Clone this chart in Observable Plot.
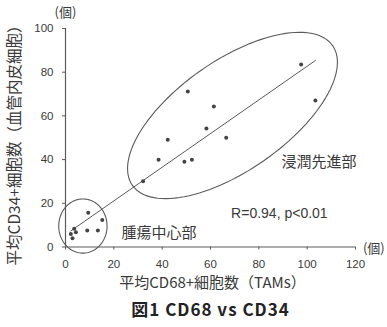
<!DOCTYPE html>
<html>
<head>
<meta charset="utf-8">
<script src="https://cdn.jsdelivr.net/npm/d3@7"></script>
<script src="https://cdn.jsdelivr.net/npm/@observablehq/plot@0.6"></script>
<style>
  html, body { margin: 0; padding: 0; background: #fff; }
  .fig-title text { letter-spacing: 1px; }
</style>
</head>
<body>
<div id="chart"></div>
<script>
// Mean CD68+ cells (TAMs) per field
const cd68 = [50.6, 61.4, 58.3, 66.5, 42.3, 38.5, 49.2, 52.3, 32.1, 97.5, 103.4,
              9.4, 15.2, 9.0, 13.4, 3.6, 4.3, 2.2, 2.9];
// Mean CD34+ cells (vascular endothelium) per field
const cd34 = [71.2, 64.3, 54.2, 50.0, 49.1, 39.9, 39.0, 39.9, 30.1, 83.5, 67.0,
              15.7, 12.4, 7.6, 7.6, 8.3, 6.8, 6.0, 4.0];
const xTicks = [0, 20, 40, 60, 80, 100, 120];
const yTicks = [0, 20, 40, 60, 80, 100];

const points = cd68.map((x, i) => ({x, y: cd34[i]}));

// Annotation ellipses (center, conjugate semi-axes in data units)
function ellipse(c, u, v, n = 120) {
  return d3.range(n + 1).map(i => {
    const t = (i / n) * 2 * Math.PI;
    return {x: c[0] + Math.cos(t) * u[0] + Math.sin(t) * v[0],
            y: c[1] + Math.cos(t) * u[1] + Math.sin(t) * v[1]};
  });
}
const invasiveFront = ellipse([69.1, 60.2], [41.4, 32.0], [13.1, -20.6]);
const tumorCenter = ellipse([7.2, 9.6], [10, 0], [0, 12.4]);

const ink = "#3a3a3a";
const lineInk = "#5a5a5a";
const latin = "'Liberation Sans', Arial, 'Noto Sans CJK JP', sans-serif";
const cjk = "'Noto Sans CJK JP', 'Liberation Sans', sans-serif";

const chart = Plot.plot({
  width: 387,
  height: 327,
  marginLeft: 65,
  marginRight: 32,
  marginTop: 28,
  marginBottom: 80.5,
  x: {domain: [0, 120]},
  y: {domain: [0, 100]},
  style: {background: "#fff", color: ink, fontFamily: latin},
  marks: [
    Plot.ruleY([0], {x1: 0, x2: 120, stroke: lineInk, strokeWidth: 1.2}),
    Plot.ruleX([0], {y1: 0, y2: 100, stroke: lineInk, strokeWidth: 1.2}),
    Plot.axisX({ticks: xTicks, tickSize: 3, tickPadding: 10, label: null,
                stroke: lineInk, fill: ink, fontSize: 11.5}),
    Plot.axisY({ticks: yTicks, tickSize: 3, tickPadding: 9, label: null,
                stroke: lineInk, fill: ink, fontSize: 11.5}),
    Plot.line(invasiveFront, {x: "x", y: "y", stroke: lineInk, strokeWidth: 1.1}),
    Plot.line(tumorCenter, {x: "x", y: "y", stroke: lineInk, strokeWidth: 1.1}),
    Plot.linearRegressionY(points, {x: "x", y: "y", ci: 0, stroke: lineInk, strokeWidth: 1}),
    Plot.dot(points, {x: "x", y: "y", r: 2, fill: "#444", stroke: null}),
    Plot.text(["浸潤先進部"], {x: 104.9, y: 38.9, fontFamily: cjk, fontSize: 15, fill: ink}),
    Plot.text(["腫瘍中心部"], {x: 38.7, y: 6.2, fontFamily: cjk, fontSize: 15, fill: ink}),
    Plot.text(["R=0.94, p<0.01"], {x: 88.5, y: 15.1, fontFamily: latin, fontSize: 14, fill: ink}),
    Plot.text(["(個)"], {x: 0, y: 107, fontFamily: cjk, fontSize: 13, fill: ink}),
    Plot.text(["(個)"], {x: 127.6, y: -0.7, fontFamily: cjk, fontSize: 13, fill: ink}),
    Plot.text(["平均CD34+細胞数（血管内皮細胞）"], {frameAnchor: "left", dx: -50, dy: 3.75,
      rotate: -90, textAnchor: "middle", lineAnchor: "middle",
      fontFamily: cjk, fontSize: 15.5, fill: ink}),
    Plot.text(["平均CD68+細胞数（TAMs）"], {frameAnchor: "bottom", dx: 2, dy: 36.5,
      textAnchor: "middle", lineAnchor: "middle",
      fontFamily: cjk, fontSize: 15, fill: ink}),
    Plot.text(["図1 CD68 vs CD34"], {frameAnchor: "bottom", dx: 0, dy: 64,
      textAnchor: "middle", lineAnchor: "middle", className: "fig-title",
      fontFamily: cjk, fontSize: 17, fontWeight: "bold", fill: "#222"})
  ]
});
document.getElementById("chart").append(chart);
</script>
</body>
</html>
